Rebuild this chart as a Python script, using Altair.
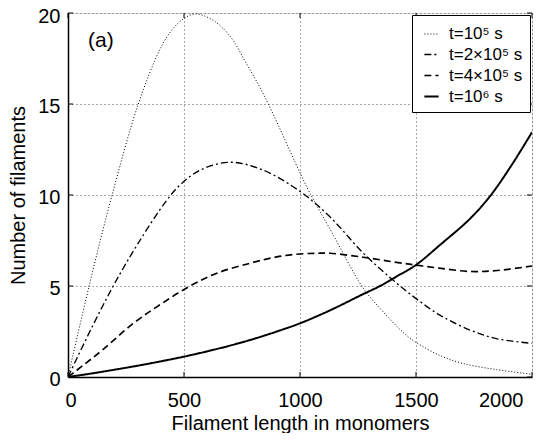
import altair as alt
import pandas as pd

series_names = ["t=10⁵ s", "t=2×10⁵ s", "t=4×10⁵ s", "t=10⁶ s"]

x_t1 = [0, 91, 188, 303, 400, 450, 500, 550, 625, 700, 770, 840, 915, 986, 1043, 1135, 1273, 1350, 1420, 1467, 1500, 1600, 1700, 1850, 2000]
y_t1 = [0, 5.0, 9.9, 15.0, 18.1, 19.1, 19.7, 19.95, 19.6, 18.7, 17.2, 15.6, 13.6, 11.6, 10.1, 8.0, 4.87, 3.7, 2.75, 2.2, 1.9, 1.2, 0.75, 0.4, 0.15]

x_t2 = [0, 100, 195, 300, 425, 483, 570, 700, 840, 1000, 1129, 1273, 1417, 1499, 1603, 1733, 1850, 2000]
y_t2 = [0, 2.65, 5.0, 7.3, 9.7, 10.55, 11.37, 11.8, 11.37, 10.2, 8.8, 6.8, 5.15, 4.32, 3.4, 2.58, 2.1, 1.85]

x_t4 = [0, 66, 150, 282, 400, 526, 641, 784, 900, 1000, 1075, 1129, 1273, 1400, 1499, 1600, 1733, 1850, 2000]
y_t4 = [0, 0.65, 1.5, 2.95, 4.0, 5.0, 5.7, 6.25, 6.6, 6.76, 6.8, 6.8, 6.58, 6.33, 6.15, 5.98, 5.8, 5.85, 6.1]

x_t10 = [0, 100, 200, 300, 400, 500, 600, 700, 800, 900, 1000, 1129, 1273, 1345, 1420, 1499, 1603, 1733, 1820, 1910, 2000]
y_t10 = [0, 0.19, 0.40, 0.62, 0.86, 1.12, 1.41, 1.73, 2.09, 2.5, 2.95, 3.66, 4.56, 5.0, 5.55, 6.15, 7.25, 8.7, 9.95, 11.6, 13.45]

x_ticks = [0, 500, 1000, 1500, 2000]
y_ticks = [0, 5, 10, 15, 20]

rows = []
for name, xs, ys in zip(series_names, [x_t1, x_t2, x_t4, x_t10], [y_t1, y_t2, y_t4, y_t10]):
    for i, (a, b) in enumerate(zip(xs, ys)):
        rows.append({"series": name, "x": a, "y": b, "order": i})
df = pd.DataFrame(rows)

FONT = "Liberation Sans"
W, H = 464, 364

xscale = alt.Scale(domain=[0, 2000], nice=False)
yscale = alt.Scale(domain=[0, 20], nice=False)

lines = alt.Chart(df).mark_line(color="black", interpolate="catmull-rom", clip=True).encode(
    x=alt.X("x:Q", scale=xscale,
            axis=alt.Axis(values=x_ticks, title="Filament length in monomers", grid=True,
                          gridDash=[1, 3], gridColor="#555", gridWidth=1,
                          ticks=False, labelPadding=13, titlePadding=3,
                          labelOffset={"condition": [{"test": "datum.value == 2000", "value": -9},
                                                     {"test": "datum.value == 0", "value": -3}],
                                       "value": 0},
                          labelFontSize=20, titleFontSize=20, labelFont=FONT, titleFont=FONT,
                          titleFontWeight="normal", domainColor="black", domainWidth=1.5,
                          labelColor="black", titleColor="black", format="d")),
    y=alt.Y("y:Q", scale=yscale,
            axis=alt.Axis(values=y_ticks, title="Number of filaments", grid=True,
                          gridDash=[1, 3], gridColor="#555", gridWidth=1,
                          ticks=False, labelPadding=8, titlePadding=9,
                          labelOffset={"condition": {"test": "datum.value == 20", "value": 3}, "value": 2},
                          labelFontSize=20, titleFontSize=20, labelFont=FONT, titleFont=FONT,
                          titleFontWeight="normal", domainColor="black", domainWidth=1.5,
                          labelColor="black", titleColor="black")),
    order="order:Q",
    strokeDash=alt.StrokeDash("series:N",
        scale=alt.Scale(domain=series_names, range=[[1, 2], [7, 3, 2, 3], [7, 4], [1, 0]]),
        legend=alt.Legend(title=None, orient="none", legendX=344, legendY=2,
                          symbolType="M-0.62,0H0.62", symbolSize=529, symbolStrokeColor="black",
                          labelFontSize=17, labelFont=FONT, labelColor="black",
                          strokeColor="black", fillColor="white", padding=7,
                          rowPadding=0, labelOffset=5, symbolStrokeWidth=1.6)),
    strokeWidth=alt.StrokeWidth("series:N",
        scale=alt.Scale(domain=series_names, range=[1.0, 2.0, 2.0, 2.0]),
        legend=None),
)

xt = pd.DataFrame({"x": x_ticks})
yt = pd.DataFrame({"y": y_ticks})
tick_bottom = alt.Chart(xt).mark_rule(color="black", strokeWidth=1).encode(
    x=alt.X("x:Q", scale=xscale), y=alt.value(H), y2=alt.value(H - 5))
tick_top = alt.Chart(xt).mark_rule(color="black", strokeWidth=1).encode(
    x=alt.X("x:Q", scale=xscale), y=alt.value(0), y2=alt.value(5))
tick_left = alt.Chart(yt).mark_rule(color="black", strokeWidth=1).encode(
    y=alt.Y("y:Q", scale=yscale), x=alt.value(0), x2=alt.value(5))
tick_right = alt.Chart(yt).mark_rule(color="black", strokeWidth=1).encode(
    y=alt.Y("y:Q", scale=yscale), x=alt.value(W), x2=alt.value(W - 5))

label = alt.Chart(pd.DataFrame({"t": ["(a)"]})).mark_text(
    font=FONT, fontSize=21, color="black", align="center", baseline="middle"
).encode(x=alt.datum(142), y=alt.datum(18.46), text="t:N")

chart = alt.layer(lines, tick_bottom, tick_top, tick_left, tick_right, label).properties(
    width=W, height=H,
    autosize=alt.AutoSizeParams(type="none"),
    padding={"left": 60, "top": 5, "right": 14, "bottom": 56},
).configure_view(stroke="black", strokeWidth=1.5).configure(background="white")

chart.save("out.html", embed_options={"renderer": "svg", "actions": False})
